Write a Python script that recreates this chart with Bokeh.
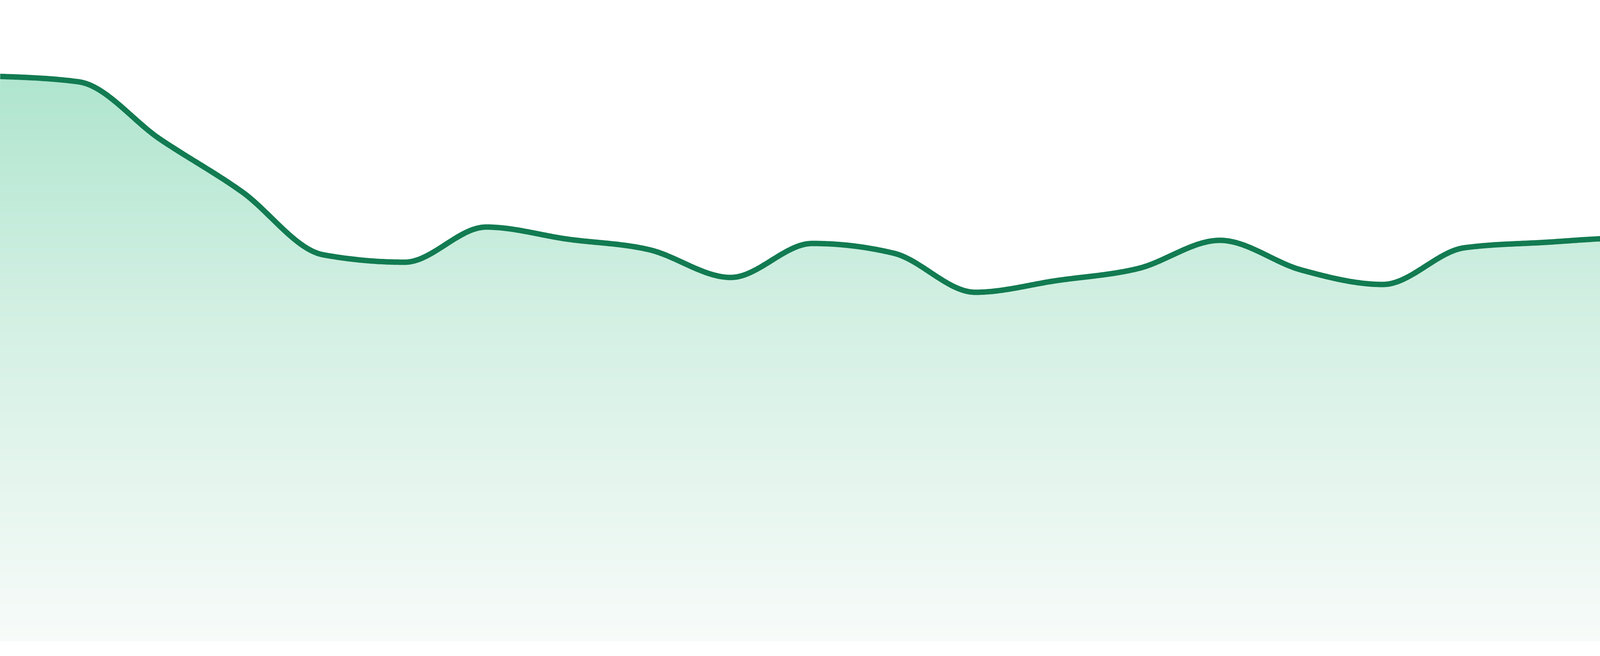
import numpy as np
from bokeh.plotting import figure
from bokeh.models import Range1d
from bokeh.embed import file_html
from bokeh.resources import INLINE

# ---- data ----
periods = list(range(1, 25))
values = [144.7, 143.3, 128.6, 115.2, 99.0, 97.1, 106.1, 103.0, 100.3, 93.2,
          101.9, 99.4, 89.4, 92.4, 95.5, 102.7, 95.1, 91.4, 100.8, 102.2,
          103.3, 100.0, 102.3, 96.8]
baseline = 0.0

# ---- styles ----
LINE_COLOR = "#127b51"
GRAD_VALUES = [0.0, 87.0, 145.0]
GRAD_COLORS = [(247, 251, 249), (209, 239, 226), (175, 229, 207)]


def monotone_x(x, y, n=48):
    """Monotone cubic curve through the points (same shape as d3.curveMonotoneX)."""
    x = np.asarray(x, float)
    y = np.asarray(y, float)
    h = np.diff(x)
    s = np.diff(y) / h
    m = len(x)
    t = np.zeros(m)
    for i in range(1, m - 1):
        s0, s1 = s[i - 1], s[i]
        h0, h1 = h[i - 1], h[i]
        p = (s0 * h1 + s1 * h0) / (h0 + h1)
        t[i] = (np.sign(s0) + np.sign(s1)) * min(abs(s0), abs(s1), 0.5 * abs(p))
    t[0] = (3 * s[0] - t[1]) / 2
    t[-1] = (3 * s[-1] - t[-2]) / 2
    xs, ys = [], []
    u = np.linspace(0, 1, n, endpoint=False)
    for i in range(m - 1):
        dx = h[i]
        y0, y3 = y[i], y[i + 1]
        y1 = y0 + dx / 3 * t[i]
        y2 = y3 - dx / 3 * t[i + 1]
        b = ((1 - u) ** 3) * y0 + 3 * ((1 - u) ** 2) * u * y1 + 3 * (1 - u) * u * u * y2 + u ** 3 * y3
        xs.append(x[i] + u * dx)
        ys.append(b)
    xs.append(np.array([x[-1]]))
    ys.append(np.array([y[-1]]))
    return np.concatenate(xs), np.concatenate(ys)


def grad_color(v):
    r = np.interp(v, GRAD_VALUES, [c[0] for c in GRAD_COLORS])
    g = np.interp(v, GRAD_VALUES, [c[1] for c in GRAD_COLORS])
    b = np.interp(v, GRAD_VALUES, [c[2] for c in GRAD_COLORS])
    return "#%02x%02x%02x" % (int(round(r)), int(round(g)), int(round(b)))


xs, ys = monotone_x(periods, values)

p = figure(width=4784, height=1664,
           x_range=Range1d(1.0383, 23.9617), y_range=Range1d(-2.2, 164.2),
           output_backend="svg", toolbar_location=None,
           x_axis_location=None, y_axis_location=None, min_border=0)
p.grid.visible = False
p.outline_line_color = None
p.background_fill_color = "white"
p.border_fill_color = "white"

# gradient fill under the curve, drawn as stacked bands
top = max(values)
n_bands = 110
levels = np.linspace(baseline, top + 1, n_bands + 1)
for k in range(n_bands - 1, -1, -1):
    mid = 0.5 * (levels[k] + levels[k + 1])
    p.varea(x=xs, y1=np.full_like(xs, baseline), y2=np.minimum(ys, levels[k + 1]),
            fill_color=grad_color(mid), fill_alpha=1.0)

p.line(xs, ys, line_color=LINE_COLOR, line_width=14, line_join="round", line_cap="round")

open("out.html", "w").write(file_html(p, INLINE))
